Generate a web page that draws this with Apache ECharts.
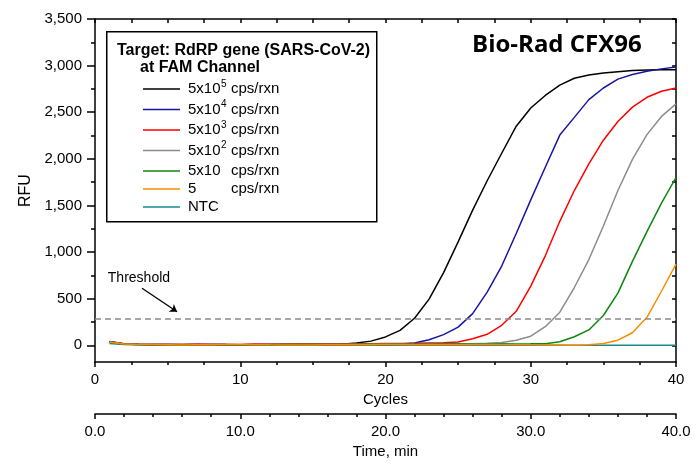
<!DOCTYPE html>
<html>
<head>
<meta charset="utf-8">
<script src="https://cdn.jsdelivr.net/npm/echarts@6/dist/echarts.min.js"></script>
<style>
html,body{margin:0;padding:0;background:#fff;}
#chart{width:697px;height:464px;}
</style>
</head>
<body>
<div id="chart"></div>
<script>
// ---- data ----
const cycles = [1,2,3,4,5,6,7,8,9,10,11,12,13,14,15,16,17,18,19,20,21,22,23,24,25,26,27,28,29,30,31,32,33,34,35,36,37,38,39,40];

const rfu5e5 = [40,18,12,10,8,8,9,10,8,7,8,9,8,9,10,9,12,25,45,90,160,290,495,780,1110,1450,1765,2060,2350,2545,2680,2790,2865,2900,2920,2935,2948,2952,2955,2955];
const rfu5e4 = [38,15,10,8,8,7,8,9,8,7,8,8,9,8,9,10,10,11,12,13,15,25,60,115,195,340,570,850,1200,1560,1910,2255,2445,2635,2760,2855,2905,2940,2965,2985];
const rfu5e3 = [35,15,12,10,9,10,11,10,9,10,12,11,12,13,14,15,16,18,18,19,20,22,25,28,35,70,118,215,365,635,960,1330,1660,1945,2200,2400,2555,2660,2725,2760];
const rfu5e2 = [36,14,10,8,7,6,7,8,7,6,7,8,7,8,9,10,10,11,10,11,12,12,13,15,16,18,22,30,55,98,200,355,620,920,1280,1660,1995,2260,2455,2590];
const rfu5e1 = [30,12,8,7,6,5,6,7,6,5,6,7,8,9,10,10,9,10,11,10,11,12,12,13,14,15,15,16,15,16,18,38,92,165,320,560,900,1220,1525,1800];
const rfu5 = [32,14,10,8,6,4,5,6,8,9,7,5,4,3,4,5,6,7,8,9,8,7,6,5,6,8,10,9,7,5,4,3,2,5,20,55,135,300,580,870];
const rfuNTC = [20,8,5,4,3,3,2,2,3,2,2,2,2,2,2,2,2,1,1,1,1,1,1,1,1,1,1,1,1,1,1,1,1,1,1,1,1,1,1,1];

const seriesNames = ['5x10^5 cps/rxn','5x10^4 cps/rxn','5x10^3 cps/rxn','5x10^2 cps/rxn','5x10 cps/rxn','5 cps/rxn','NTC'];
const seriesValues = [rfu5e5, rfu5e4, rfu5e3, rfu5e2, rfu5e1, rfu5, rfuNTC];
const seriesColors = ['#000000','#1616a3','#ff0000','#8c8c8c','#0b870b','#ff8a00','#168c8c'];

const yMajorTicks = [0,500,1000,1500,2000,2500,3000,3500];
const yMinorTicks = [250,750,1250,1750,2250,2750,3250];
const yAllTicks = [0,250,500,750,1000,1250,1500,1750,2000,2250,2500,2750,3000,3250,3500];

const thresholdValue = 290;
const arrowStart = [3.24, 613];
const arrowEnd = [5.65, 360];

const FONT = '"Liberation Sans", Arial, sans-serif';

// ---- chart ----
const chart = echarts.init(document.getElementById('chart'), null, {renderer: 'canvas'});

function legendFmt(name) {
  if (name === 'NTC') return '{n3|NTC}';
  const m = name.match(/^(\S+?)(?:\^(\d))?\s+(cps\/rxn)$/);
  const base = m[1], sup = m[2] || ' ', unit = m[3];
  const big = (name.indexOf('^') >= 0 || name.indexOf('5x10 ') === 0);
  const sfx = big ? '' : '2';
  return '{a' + sfx + '|' + base + '}{s' + sfx + '|' + sup + '}{n' + sfx + '|' + unit + '}';
}

const order = [6,0,1,2,3,4,5]; // draw NTC first
const series = order.map((idx) => ({
  name: seriesNames[idx],
  type: 'line',
  xAxisIndex: 0,
  yAxisIndex: 0,
  symbol: 'none',
  smooth: false,
  color: seriesColors[idx],
  lineStyle: {width: 1.5, color: seriesColors[idx]},
  data: cycles.map((c, i) => [c, seriesValues[idx][i]]),
  z: 3
}));

series[0].markLine = {
  silent: true,
  symbol: 'none',
  animation: false,
  label: {show: false},
  lineStyle: {type: [6, 4], color: '#8a8a8a', width: 1.5},
  data: [{yAxis: thresholdValue}]
};
series[1].markLine = {
  silent: true,
  symbol: ['none', 'arrow'],
  symbolSize: 7,
  animation: false,
  label: {show: true, position: 'start', formatter: 'Threshold', color: '#000', fontFamily: FONT, fontSize: 14, distance: [0, 0], offset: [28, -10]},
  lineStyle: {type: 'solid', color: '#000', width: 1.3},
  data: [[{coord: arrowStart}, {coord: arrowEnd}]]
};

const axisLineStyle = {color: '#000', width: 1.5};

const option = {
  animation: false,
  backgroundColor: '#fff',
  textStyle: {fontFamily: FONT},
  grid: {left: 95, right: 21, top: 19, bottom: 97, containLabel: false},
  xAxis: [
    {
      type: 'value', position: 'bottom', min: 0, max: 40, interval: 10,
      name: 'Cycles', nameLocation: 'middle', nameGap: 28,
      nameTextStyle: {fontSize: 15, color: '#000', fontFamily: FONT},
      axisLine: {show: true, onZero: false, lineStyle: axisLineStyle},
      axisTick: {show: true, inside: false, length: 5, lineStyle: axisLineStyle},
      minorTick: {show: true, splitNumber: 4, length: 3, lineStyle: axisLineStyle},
      axisLabel: {fontSize: 15, color: '#000', margin: 10, fontFamily: FONT},
      splitLine: {show: false}
    },
    {
      type: 'value', position: 'bottom', offset: 52, min: 0, max: 40, interval: 10,
      name: 'Time, min', nameLocation: 'middle', nameGap: 27,
      nameTextStyle: {fontSize: 15, color: '#000', fontFamily: FONT},
      axisLine: {show: true, onZero: false, lineStyle: axisLineStyle},
      axisTick: {show: true, inside: false, length: 5, lineStyle: axisLineStyle},
      minorTick: {show: true, splitNumber: 5, length: 3, lineStyle: axisLineStyle},
      axisLabel: {fontSize: 15, color: '#000', margin: 10, fontFamily: FONT, formatter: (v) => v.toFixed(1)},
      splitLine: {show: false}
    },
    {
      type: 'value', position: 'top', min: 0, max: 40, interval: 2.5,
      axisLine: {show: true, onZero: false, lineStyle: axisLineStyle},
      axisTick: {show: true, inside: true, length: 4, lineStyle: axisLineStyle},
      axisLabel: {show: false},
      splitLine: {show: false}
    }
  ],
  yAxis: [
    {
      type: 'value', position: 'left', min: -180, max: 3500,
      name: 'RFU', nameLocation: 'middle', nameGap: 58, nameRotate: 90,
      nameTextStyle: {fontSize: 16, color: '#000', fontFamily: FONT},
      axisLine: {show: true, onZero: false, lineStyle: axisLineStyle},
      axisTick: {show: true, inside: false, length: 8, customValues: yMajorTicks, lineStyle: axisLineStyle},
      axisLabel: {fontSize: 15, color: '#000', margin: 13, fontFamily: FONT, customValues: yMajorTicks,
        formatter: (v) => v.toLocaleString('en-US')},
      splitLine: {show: false}
    },
    {
      type: 'value', position: 'left', min: -180, max: 3500,
      axisLine: {show: false},
      axisTick: {show: true, inside: false, length: 4, customValues: yMinorTicks, lineStyle: axisLineStyle},
      axisLabel: {show: false, customValues: yMinorTicks},
      splitLine: {show: false}
    },
    {
      type: 'value', position: 'right', min: -180, max: 3500,
      axisLine: {show: true, onZero: false, lineStyle: axisLineStyle},
      axisTick: {show: true, inside: true, length: 4, customValues: yAllTicks, lineStyle: axisLineStyle},
      axisLabel: {show: false, customValues: yAllTicks},
      splitLine: {show: false}
    }
  ],
  legend: {
    show: true,
    orient: 'vertical',
    left: 143,
    top: 79,
    itemWidth: 37,
    itemHeight: 12,
    itemGap: 3,
    padding: 0,
    icon: 'path://M0,6 L37,6 L37,7.5 L0,7.5 Z',
    data: seriesNames,
    formatter: legendFmt,
    textStyle: {
      color: '#000', fontFamily: FONT, fontSize: 15,
      rich: {
        a: {fontSize: 15, fontFamily: FONT, width: 33, lineHeight: 20, padding: [0, 0, 0, 3]},
        s: {fontSize: 10, fontFamily: FONT, width: 10, verticalAlign: 'top', lineHeight: 20, padding: [0, 0, 6, 0]},
        n: {fontSize: 15, fontFamily: FONT, lineHeight: 20},
        a2: {fontSize: 15, fontFamily: FONT, width: 33, lineHeight: 11, padding: [0, 0, 0, 3]},
        s2: {fontSize: 10, fontFamily: FONT, width: 10, lineHeight: 11},
        n2: {fontSize: 15, fontFamily: FONT, lineHeight: 11},
        n3: {fontSize: 15, fontFamily: FONT, lineHeight: 8, padding: [0, 0, 0, 3]}
      }
    }
  },
  graphic: [
    {
      type: 'rect', left: 106, top: 31, z: 1,
      shape: {width: 270, height: 190},
      style: {fill: '#fff', stroke: '#000', lineWidth: 1.5}
    },
    {
      type: 'text', left: 117, top: 43, z: 10,
      style: {text: 'Target: RdRP gene (SARS-CoV-2)', font: 'bold 16px ' + FONT, fill: '#000'}
    },
    {
      type: 'text', left: 140, top: 60, z: 10,
      style: {text: 'at FAM Channel', font: 'bold 16px ' + FONT, fill: '#000'}
    },
    {
      type: 'text', x: 472, y: 45, z: 10,
      style: {text: 'Bio-Rad CFX96', font: 'bold 24px "Open Sans", sans-serif', fill: '#000', verticalAlign: 'middle', align: 'left'}
    }
  ],
  series: series
};

chart.setOption(option);
</script>
</body>
</html>
